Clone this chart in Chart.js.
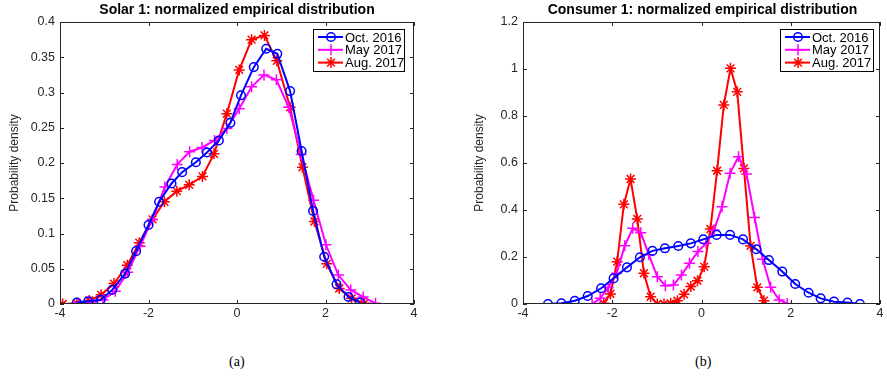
<!DOCTYPE html>
<html>
<head>
<meta charset="utf-8">
<script src="https://cdn.jsdelivr.net/npm/chart.js@4"></script>
<style>
    body { margin: 0; background: #fff; }
    #wrap { position: relative; width: 887px; height: 381px; overflow: hidden; }
    canvas { position: absolute; top: 0; }
    .cap { position: absolute; top: 354px; font: 14px "Liberation Serif", "Times New Roman", serif; color: #000; }
</style>
</head>
<body>
<div id="wrap">
    <canvas id="chartSolar" width="430" height="330" style="left:0px"></canvas>
    <canvas id="chartConsumer" width="427" height="330" style="left:460px"></canvas>
    <div class="cap" style="left:229px">(a)</div>
    <div class="cap" style="left:695px">(b)</div>
</div>
<script>
// legend names
const seriesNames = ['Oct. 2016', 'May 2017', 'Aug. 2017'];

// Solar 1
const solarOctX = [-3.62, -3.36, -3.08, -2.82, -2.53, -2.28, -2.0, -1.76, -1.48, -1.24, -0.93, -0.68, -0.41, -0.15, 0.09, 0.38, 0.66, 0.91, 1.20, 1.46, 1.72, 1.97, 2.25, 2.52, 2.78];
const solarOctY = [0.002, 0.004, 0.006, 0.020, 0.043, 0.075, 0.112, 0.145, 0.171, 0.187, 0.201, 0.215, 0.232, 0.257, 0.296, 0.336, 0.362, 0.355, 0.302, 0.217, 0.132, 0.067, 0.028, 0.010, 0.002];
const solarMayX = [-3.59, -3.31, -3.03, -2.75, -2.47, -2.19, -1.91, -1.63, -1.35, -1.07, -0.79, -0.51, -0.23, 0.05, 0.33, 0.61, 0.89, 1.17, 1.45, 1.73, 2.01, 2.29, 2.57, 2.85, 3.13];
const solarMayY = [0.001, 0.003, 0.006, 0.018, 0.045, 0.082, 0.120, 0.166, 0.198, 0.216, 0.222, 0.232, 0.249, 0.277, 0.308, 0.325, 0.318, 0.279, 0.212, 0.147, 0.084, 0.041, 0.020, 0.010, 0.001];
const solarAugX = [-3.94, -3.62, -3.34, -3.07, -2.78, -2.48, -2.21, -1.91, -1.64, -1.36, -1.08, -0.78, -0.52, -0.23, 0.05, 0.33, 0.62, 0.90, 1.20, 1.48, 1.75, 2.03, 2.31, 2.59, 2.88];
const solarAugY = [0.0, 0.001, 0.005, 0.013, 0.029, 0.055, 0.087, 0.120, 0.145, 0.160, 0.169, 0.181, 0.213, 0.270, 0.332, 0.375, 0.381, 0.345, 0.279, 0.194, 0.117, 0.057, 0.022, 0.008, 0.001];

// Consumer 1
const consOctX = [-3.44, -3.14, -2.84, -2.55, -2.25, -1.97, -1.67, -1.38, -1.10, -0.82, -0.52, -0.24, 0.04, 0.34, 0.64, 0.93, 1.23, 1.51, 1.81, 2.10, 2.40, 2.67, 2.97, 3.27, 3.55];
const consOctY = [0.0, 0.003, 0.014, 0.034, 0.067, 0.109, 0.156, 0.199, 0.226, 0.237, 0.247, 0.258, 0.275, 0.294, 0.294, 0.275, 0.233, 0.187, 0.138, 0.085, 0.048, 0.024, 0.010, 0.006, 0.0];
const consMayX = [-2.45, -2.27, -2.09, -1.90, -1.72, -1.54, -1.36, -1.18, -0.99, -0.81, -0.63, -0.45, -0.27, -0.08, 0.10, 0.28, 0.46, 0.64, 0.83, 1.01, 1.19, 1.37, 1.55, 1.74, 1.92];
const consMayY = [0.0, 0.024, 0.07, 0.131, 0.248, 0.322, 0.303, 0.21, 0.116, 0.078, 0.081, 0.123, 0.173, 0.223, 0.258, 0.315, 0.414, 0.556, 0.627, 0.553, 0.368, 0.19, 0.071, 0.017, 0.002];
const consAugX = [-2.19, -2.04, -1.89, -1.74, -1.59, -1.44, -1.29, -1.14, -0.99, -0.84, -0.69, -0.54, -0.39, -0.24, -0.09, 0.06, 0.20, 0.35, 0.50, 0.65, 0.80, 0.95, 1.10, 1.25, 1.40];
const consAugY = [0.003, 0.043, 0.18, 0.424, 0.532, 0.362, 0.131, 0.031, 0.0, 0.0, 0.003, 0.014, 0.041, 0.074, 0.099, 0.159, 0.319, 0.567, 0.847, 1.003, 0.903, 0.577, 0.247, 0.071, 0.014];

// tick values
const xTicks = [-4, -2, 0, 2, 4];
const solarYTicks = [0, 0.05, 0.1, 0.15, 0.2, 0.25, 0.3, 0.35, 0.4];
const consYTicks = [0, 0.2, 0.4, 0.6, 0.8, 1, 1.2];

const styles = [
    { color: '#0000ff', pointStyle: 'circle', radius: 4.3 },
    { color: '#ff00ff', pointStyle: 'cross', radius: 5.5 },
    { color: '#ff0000', pointStyle: 'star', radius: 5.5 }
];
const axisColor = '#262626';
const tickFont = { family: '"Liberation Sans", Arial, sans-serif', size: 12.5 };

const toPoints = (xs, ys) => xs.map((x, i) => ({ x: x, y: ys[i] }));

// draws a matlab-ish marker, used for the legend
function drawMarker(ctx, style, x, y, r) {
    ctx.beginPath();
    if (style == 'circle') {
        ctx.arc(x, y, r, 0, Math.PI * 2);
    } else {
        ctx.moveTo(x - r, y); ctx.lineTo(x + r, y);
        ctx.moveTo(x, y - r); ctx.lineTo(x, y + r);
        if (style == 'star') {
            const d = r * Math.SQRT1_2;
            ctx.moveTo(x - d, y - d); ctx.lineTo(x + d, y + d);
            ctx.moveTo(x - d, y + d); ctx.lineTo(x + d, y - d);
        }
    }
    ctx.stroke();
}

const matlabBox = {
    id: 'matlabBox',
    afterDraw(chart, args, opts) {
        const { ctx, chartArea: a, scales } = chart;
        ctx.save();

        // box + inward ticks
        ctx.strokeStyle = axisColor;
        ctx.lineWidth = 1;
        ctx.strokeRect(a.left + 0.5, a.top + 0.5, a.width - 1, a.height - 1);
        ctx.beginPath();
        opts.xTicks.forEach(v => {
            const px = Math.round(scales.x.getPixelForValue(v)) + 0.5;
            ctx.moveTo(px, a.bottom); ctx.lineTo(px, a.bottom - 4);
            ctx.moveTo(px, a.top); ctx.lineTo(px, a.top + 4);
        });
        opts.yTicks.forEach(v => {
            const py = Math.round(scales.y.getPixelForValue(v)) + 0.5;
            ctx.moveTo(a.left, py); ctx.lineTo(a.left + 4, py);
            ctx.moveTo(a.right, py); ctx.lineTo(a.right - 4, py);
        });
        ctx.stroke();

        // title
        ctx.fillStyle = '#000';
        ctx.font = 'bold 14px "Liberation Sans", Arial, sans-serif';
        ctx.textAlign = 'center';
        ctx.textBaseline = 'middle';
        ctx.fillText(opts.title, (a.left + a.right) / 2 + opts.titleShift, 10);

        // y label
        ctx.fillStyle = axisColor;
        ctx.font = '12px "Liberation Sans", Arial, sans-serif';
        ctx.save();
        ctx.translate(opts.yLabelX, (a.top + a.bottom) / 2);
        ctx.rotate(-Math.PI / 2);
        ctx.fillText('Probability density', 0, 0);
        ctx.restore();

        // legend
        const lg = opts.legend;
        ctx.fillStyle = '#fff';
        ctx.fillRect(lg.x, lg.y, lg.w, lg.h);
        ctx.strokeStyle = '#000';
        ctx.lineWidth = 1;
        ctx.strokeRect(lg.x + 0.5, lg.y + 0.5, lg.w, lg.h);
        ctx.font = '13px "Liberation Sans", Arial, sans-serif';
        seriesNames.forEach((name, i) => {
            const yy = lg.y + 8 + i * 12.8;
            const st = styles[i];
            ctx.strokeStyle = st.color;
            ctx.lineWidth = 2;
            ctx.beginPath();
            ctx.moveTo(lg.x + 5, yy); ctx.lineTo(lg.x + 30, yy);
            ctx.stroke();
            ctx.lineWidth = 1.5;
            drawMarker(ctx, st.pointStyle, lg.x + 18, yy, st.radius);
            ctx.fillStyle = '#000';
            ctx.textAlign = 'left';
            ctx.fillText(name, lg.x + 32, yy + 1);
        });
        ctx.restore();
    }
};

function makeChart(id, series, yMax, yTicks, pad, yWidth, boxOpts) {
    return new Chart(document.getElementById(id), {
        type: 'line',
        data: {
            datasets: series.map((pts, i) => ({
                label: seriesNames[i],
                data: pts,
                borderColor: styles[i].color,
                backgroundColor: 'rgba(0,0,0,0)',
                pointBorderColor: styles[i].color,
                pointBackgroundColor: 'rgba(0,0,0,0)',
                pointStyle: styles[i].pointStyle,
                pointRadius: styles[i].radius,
                pointBorderWidth: 1.5,
                borderWidth: 2,
                tension: 0
            }))
        },
        options: {
            responsive: false,
            animation: false,
            layout: { padding: pad },
            scales: {
                x: {
                    type: 'linear',
                    min: -4,
                    max: 4,
                    grid: { display: false, drawTicks: false },
                    border: { display: false },
                    afterBuildTicks: s => { s.ticks = xTicks.map(v => ({ value: v })); },
                    afterFit: s => { s.height = 20; },
                    ticks: { color: axisColor, font: tickFont, padding: 2, maxRotation: 0 }
                },
                y: {
                    type: 'linear',
                    min: 0,
                    max: yMax,
                    grid: { display: false, drawTicks: false },
                    border: { display: false },
                    afterBuildTicks: s => { s.ticks = yTicks.map(v => ({ value: v })); },
                    afterFit: s => { s.width = yWidth; },
                    ticks: {
                        color: axisColor, font: tickFont, padding: 5,
                        callback: v => String(+Number(v).toFixed(2))
                    }
                }
            },
            plugins: {
                legend: { display: false },
                tooltip: { enabled: false },
                matlabBox: boxOpts
            }
        },
        plugins: [matlabBox]
    });
}

makeChart('chartSolar',
    [toPoints(solarOctX, solarOctY), toPoints(solarMayX, solarMayY), toPoints(solarAugX, solarAugY)],
    0.4, solarYTicks,
    { left: 0, right: 16, top: 22, bottom: 6 }, 60,
    {
        title: 'Solar 1: normalized empirical distribution', titleShift: 0,
        xTicks: xTicks, yTicks: solarYTicks, yLabelX: 15,
        legend: { x: 313, y: 29, w: 91, h: 42 }
    });

makeChart('chartConsumer',
    [toPoints(consOctX, consOctY), toPoints(consMayX, consMayY), toPoints(consAugX, consAugY)],
    1.2, consYTicks,
    { left: 0, right: 4, top: 22, bottom: 6 }, 63,
    {
        title: 'Consumer 1: normalized empirical distribution', titleShift: 1,
        xTicks: xTicks, yTicks: consYTicks, yLabelX: 20,
        legend: { x: 320, y: 29, w: 93, h: 42 }
    });
</script>
</body>
</html>
